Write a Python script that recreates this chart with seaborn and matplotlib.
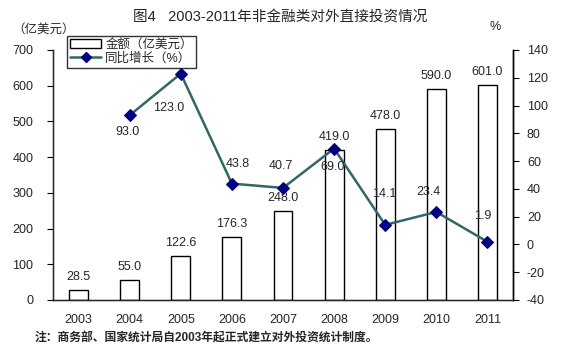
import numpy as np
import pandas as pd
import matplotlib
matplotlib.use("Agg")
import matplotlib.pyplot as plt
import seaborn as sns
from matplotlib.patches import Patch
from matplotlib.lines import Line2D

years = ["2003", "2004", "2005", "2006", "2007", "2008", "2009", "2010", "2011"]
amount = [28.5, 55.0, 122.6, 176.3, 248.0, 419.0, 478.0, 590.0, 601.0]
growth_years = ["2004", "2005", "2006", "2007", "2008", "2009", "2010", "2011"]
growth = [93.0, 123.0, 43.8, 40.7, 69.0, 14.1, 23.4, 1.9]

# label offsets for the growth line, in pixels (dx, dy)
growth_label_offset = [(-2, -17), (-12, -34), (6, 20), (-2, 22), (-2, -18), (-1, 31), (-8, 20), (-5, 26)]

sns.set_style("white")
plt.rcParams['font.family'] = ['Liberation Sans', 'Noto Sans CJK SC']
plt.rcParams['axes.unicode_minus'] = False

df_bar = pd.DataFrame({"year": years, "amount": amount})
df_line = pd.DataFrame({"pos": [years.index(y) for y in growth_years], "growth": growth})

fig = plt.figure(figsize=(5.68, 3.64), dpi=100)
ax = fig.add_axes([53 / 568, 1 - 300 / 364, 460 / 568, 250 / 364])

sns.barplot(data=df_bar, x="year", y="amount", color="white", edgecolor="black",
            linewidth=1, width=0.37, ax=ax, saturation=1)
for i, v in enumerate(amount):
    ax.annotate(f"{v:.1f}", (i, v), xytext=(0, 7), textcoords="offset pixels",
                ha="center", va="bottom", fontsize=9)

ax.set_ylim(0, 700)
ax.set_xlim(-0.5, 8.5)
ax.set_yticks(range(0, 701, 100))
ax.set_xlabel("")
ax.set_ylabel("")
ax.set_xticks(range(len(years)))
ax.set_xticklabels(years)
ax.set_xticks(np.arange(-0.5, 9, 1), minor=True)
ax.tick_params(axis="x", which="major", length=0, pad=10, labelsize=9)
ax.tick_params(axis="x", which="minor", direction="in", length=4, color="black", width=0.8)
ax.tick_params(axis="y", direction="out", length=4, color="black", width=0.8, labelsize=9, pad=10)
ax.spines["top"].set_visible(False)
for s in ["left", "bottom", "right"]:
    ax.spines[s].set_color("black")
    ax.spines[s].set_linewidth(1)

ax2 = ax.twinx()
sns.lineplot(data=df_line, x="pos", y="growth", color="#336666", linewidth=1.8, ax=ax2,
             marker="D", markersize=6, markerfacecolor="#000080", markeredgecolor="#000080")
for (p, g, (dx, dy)) in zip(df_line["pos"], growth, growth_label_offset):
    ax2.annotate(f"{g:.1f}", (p, g), xytext=(dx, dy), textcoords="offset pixels",
                 ha="center", va="center", fontsize=9)
ax2.set_ylim(-40, 140)
ax2.set_yticks(range(-40, 141, 20))
ax2.set_ylabel("")
ax2.set_xlabel("")
ax2.set_xlim(-0.5, 8.5)
ax2.tick_params(axis="y", direction="out", length=4, color="black", width=0.8, labelsize=9, pad=6)
ax2.spines["top"].set_visible(False)
ax2.spines["right"].set_color("black")
ax2.spines["right"].set_linewidth(1)

handles = [Patch(facecolor="white", edgecolor="black", label="金额（亿美元）"),
           Line2D([0], [0], color="#336666", lw=1.8, marker="D", markersize=5,
                  markerfacecolor="#000080", markeredgecolor="#000080", label="同比增长（%）")]
leg = ax.legend(handles=handles, loc="upper left", bbox_to_anchor=(14 / 460, 1 + 14 / 250),
                frameon=True, fancybox=False, edgecolor="black", fontsize=9,
                handlelength=2.5, handletextpad=0.3, borderpad=0.25, labelspacing=0.1,
                borderaxespad=0)
leg.get_frame().set_linewidth(1)

fig.text(280 / 568, 1 - 17 / 364, "图4   2003-2011年非金融类对外直接投资情况",
         ha="center", va="center", fontsize=10.5)
fig.text(12 / 568, 1 - 30 / 364, "（亿美元）", ha="left", va="center", fontsize=9)
fig.text(490 / 568, 1 - 27 / 364, "%", ha="left", va="center", fontsize=9)
fig.text(35 / 568, 1 - 338 / 364, "注：商务部、国家统计局自2003年起正式建立对外投资统计制度。",
         ha="left", va="center", fontsize=8.5, fontweight="bold")

fig.savefig("out.png", dpi=100, facecolor="white")
